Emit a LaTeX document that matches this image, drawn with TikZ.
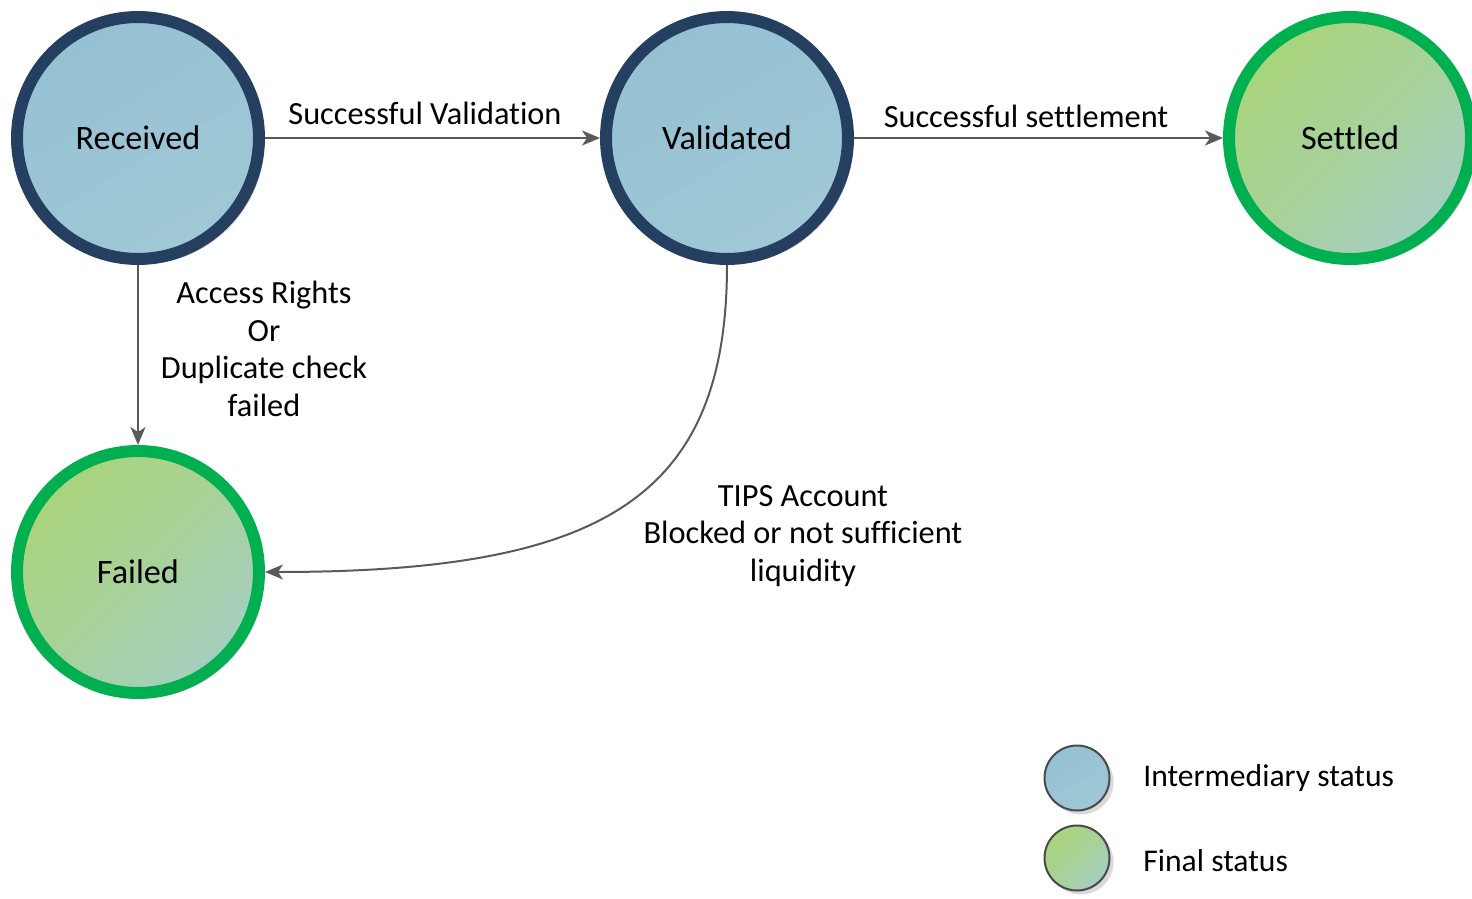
\documentclass[tikz,border=0pt]{standalone}
\usepackage{fontspec}
\setmainfont{Carlito}[Ligatures={NoCommon}]
\usetikzlibrary{arrows.meta,shadows,calc}
\definecolor{bluefillA}{HTML}{95C1D3}
\definecolor{bluefillB}{HTML}{A0C8D6}
\definecolor{blueborder}{HTML}{243F60}
\definecolor{greenA}{HTML}{A9D47C}
\definecolor{greenB}{HTML}{A6CEC2}
\definecolor{greenborder}{HTML}{00B050}
\definecolor{arrowgray}{HTML}{5A5A5E}
\definecolor{legendborder}{HTML}{4A4A4A}
\tikzset{
  x=0.02cm, y=-0.02cm,
  state/.style={circle, minimum size=4.84cm, inner sep=0pt, line width=0.24cm,
    font=\fontsize{19.5}{22}\selectfont,
    drop shadow={shadow xshift=0.1cm, shadow yshift=-0.1cm, opacity=0.25, fill=black!60}},
  interm/.style={state, draw=blueborder, top color=bluefillA, bottom color=bluefillB, shading angle=30},
  final/.style={state, draw=greenborder, top color=greenA, bottom color=greenB, middle color=greenA!60!greenB, shading angle=45},
  legint/.style={circle, minimum size=1.3cm, inner sep=0pt, line width=0.04cm, draw=legendborder,
    top color=bluefillA, bottom color=bluefillB, shading angle=30,
    drop shadow={shadow xshift=0.08cm, shadow yshift=-0.08cm, opacity=0.25, fill=black!60}},
  legfin/.style={circle, minimum size=1.3cm, inner sep=0pt, line width=0.04cm, draw=legendborder,
    top color=greenA, bottom color=greenB, middle color=greenA!60!greenB, shading angle=45,
    drop shadow={shadow xshift=0.08cm, shadow yshift=-0.08cm, opacity=0.25, fill=black!60}},
  conn/.style={draw=arrowgray, line width=0.04cm, -{Stealth[length=0.36cm, width=0.3cm, inset=0.1cm]}},
  lbl/.style={font=\fontsize{18.4}{21.3}\selectfont, align=center, inner sep=0pt},
  legtext/.style={font=\fontsize{18}{21}\selectfont, anchor=west, inner sep=0pt}
}
\begin{document}
\begin{tikzpicture}
\useasboundingbox (0,0) rectangle (1472,899);
\node[interm] (rec) at (138,138) {Received};
\node[interm] (val) at (727,138) {Validated};
\node[final] (set) at (1350,138) {Settled};
\node[final] (fail) at (138,572) {Failed};

\draw[conn] (rec) -- (val);
\draw[conn] (val) -- (set);
\draw[conn] (rec) -- (fail);
\draw[conn] (val.south) .. controls (727,500) and (600,572) .. (fail.east);

\node[lbl] (l1) at (425,113) {Successful Validation};
\node[lbl] (l2) at (1026,116) {Successful settlement};
\node[lbl] (l3) at (264,349) {Access Rights\\Or\\Duplicate check\\failed};
\node[lbl] (l4) at (803,536) {TIPS Account\\Blocked or not sufficient\\liquidity};

\node[legint] (li) at (1077,778) {};
\node[legfin] (lf) at (1077,858) {};
\node[legtext] (lti) at (1143,778) {Intermediary status};
\node[legtext] (ltf) at (1143,861) {Final status};
\end{tikzpicture}
\end{document}
